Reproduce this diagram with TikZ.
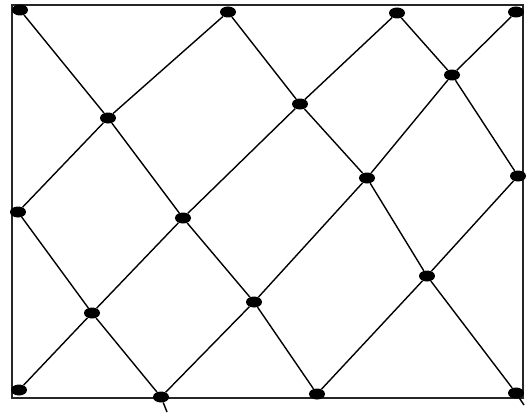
\documentclass[tikz,border=0pt]{standalone}
\usepackage{tikz}
\usetikzlibrary{shapes.geometric}

\begin{document}
\begin{tikzpicture}[
    x=1pt, y=-1pt,
    dot/.style={ellipse, fill=black, inner sep=0pt, minimum width=16pt, minimum height=11pt},
    ray/.style={line width=1.4pt},
    frame/.style={line width=1.6pt, black!85}
]
\useasboundingbox (0,0) rectangle (529,412);

% Frame
\draw[frame] (12,5) rectangle (523,398);

% Points on the frame
\node[dot] (A) at (20,10) {};
\node[dot] (B) at (228,12) {};
\node[dot] (C) at (397,13) {};
\node[dot] (D) at (516,12) {};
\node[dot] (J) at (18,212) {};
\node[dot] (H) at (518,176) {};
\node[dot] (O) at (19,390) {};
\node[dot] (P) at (161,397) {};
\node[dot] (Q) at (317,394) {};
\node[dot] (R) at (516,393) {};

% Crossings inside
\node[dot] (E) at (108,118) {};
\node[dot] (F) at (300,104) {};
\node[dot] (G) at (452,75) {};
\node[dot] (I) at (367,178) {};
\node[dot] (K) at (183,218) {};
\node[dot] (L) at (92,313) {};
\node[dot] (M) at (254,302) {};
\node[dot] (N) at (427,276) {};

% Free ends below the frame
\coordinate (P') at (167,412);
\coordinate (R') at (524,405);

% Down-right rays
\draw[ray] (A) -- (E) -- (K) -- (M) -- (Q);
\draw[ray] (J) -- (L) -- (P) -- (P');
\draw[ray] (B) -- (F) -- (I) -- (N) -- (R) -- (R');
\draw[ray] (C) -- (G) -- (H);

% Up-right rays
\draw[ray] (O) -- (L) -- (K) -- (F) -- (C);
\draw[ray] (J) -- (E) -- (B);
\draw[ray] (P) -- (M) -- (I) -- (G) -- (D);
\draw[ray] (Q) -- (N) -- (H);

\end{tikzpicture}
\end{document}
